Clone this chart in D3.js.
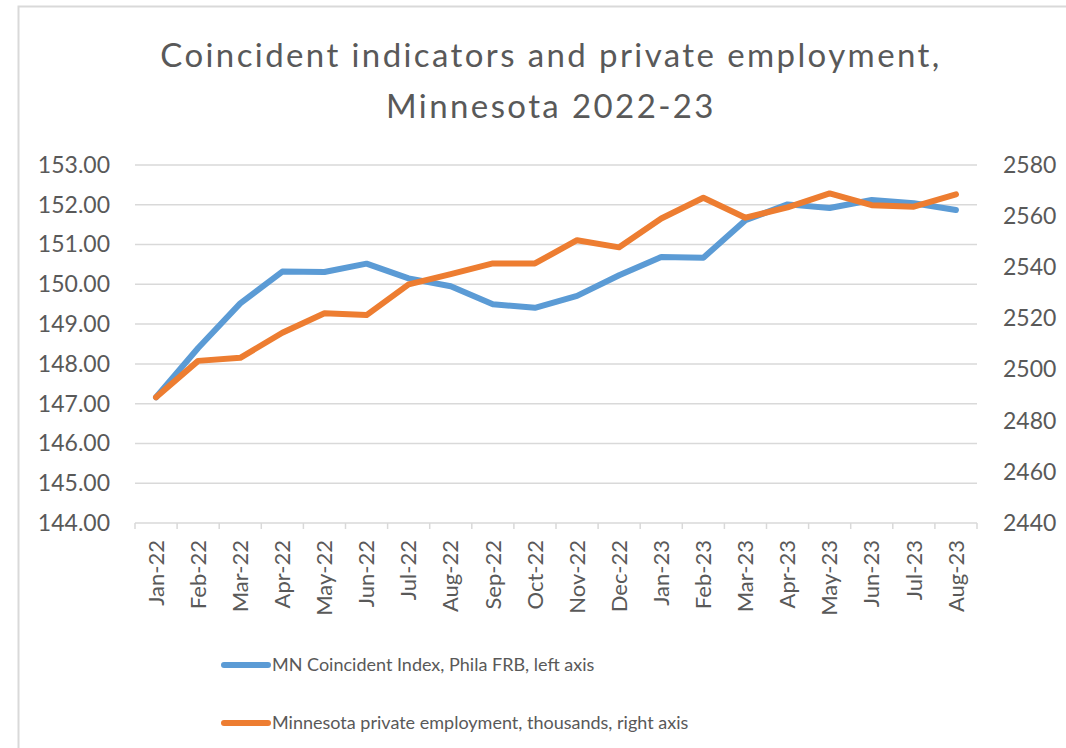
<!DOCTYPE html>
<html>
<head>
<meta charset="utf-8">
<script src="https://cdn.jsdelivr.net/npm/d3@7"></script>
<style>
  body { margin: 0; background: #fff; }
  text { font-family: Lato, sans-serif; fill: #595959; }
</style>
</head>
<body>
<svg id="chart"></svg>
<script>
var months = ['Jan-22', 'Feb-22', 'Mar-22', 'Apr-22', 'May-22', 'Jun-22', 'Jul-22', 'Aug-22',
    'Sep-22', 'Oct-22', 'Nov-22', 'Dec-22', 'Jan-23', 'Feb-23', 'Mar-23', 'Apr-23',
    'May-23', 'Jun-23', 'Jul-23', 'Aug-23'];

// MN coincident index (left axis)
var coincident = [147.16, 148.40, 149.52, 150.32, 150.31, 150.52, 150.15, 149.95, 149.50, 149.41,
    149.71, 150.23, 150.69, 150.67, 151.61, 152.01, 151.92, 152.12, 152.04, 151.87];

// MN private employment, thousands (right axis)
var employment = [2489.2, 2503.4, 2504.6, 2514.4, 2522.0, 2521.3, 2533.3, 2537.3, 2541.5, 2541.5,
    2550.6, 2547.8, 2559.1, 2567.2, 2559.4, 2563.4, 2568.9, 2564.3, 2563.7, 2568.5];

var leftTicks = [144, 145, 146, 147, 148, 149, 150, 151, 152, 153];
var rightTicks = [2440, 2460, 2480, 2500, 2520, 2540, 2560, 2580];

var titleLines = ['Coincident indicators and private employment,', 'Minnesota 2022-23'];
var legendLabels = ['MN Coincident Index, Phila FRB, left axis',
    'Minnesota private employment, thousands, right axis'];
var colors = ['#5b9bd5', '#ed7d31'];

var W = 1066, H = 748;
var plotLeft = 135, plotRight = 977, plotTop = 165, plotBottom = 523;

var svg = d3.select('#chart').attr('width', W).attr('height', H);

// chart border
svg.append('rect')
    .attr('x', 18.5).attr('y', 6.5)
    .attr('width', W + 20).attr('height', H + 20)
    .attr('fill', 'none').attr('stroke', '#d9d9d9').attr('stroke-width', 2);

var x = d3.scaleBand().domain(months).range([plotLeft, plotRight]).padding(0);
var yL = d3.scaleLinear().domain([144, 153]).range([plotBottom, plotTop]);
var yR = d3.scaleLinear().domain([2440, 2580]).range([plotBottom, plotTop]);

// title
svg.append('g').selectAll('text')
    .data(titleLines)
    .enter().append('text')
    .attr('x', 551)
    .attr('y', function(d, i) { return 67 + i * 51; })
    .attr('text-anchor', 'middle')
    .style('font-size', '33px')
    .style('letter-spacing', '2.4px')
    .text(function(d) { return d; });

// gridlines
svg.append('g')
    .selectAll('line')
    .data(leftTicks.slice(1))
    .enter().append('line')
    .attr('x1', plotLeft).attr('x2', plotRight)
    .attr('y1', function(d) { return yL(d); })
    .attr('y2', function(d) { return yL(d); })
    .attr('stroke', '#d9d9d9').attr('stroke-width', 1.5);

// left axis
var gl = svg.append('g')
    .attr('transform', 'translate(' + plotLeft + ',0)')
    .call(d3.axisLeft(yL).tickValues(leftTicks).tickFormat(d3.format('.2f')).tickSize(0).tickPadding(25));
gl.select('.domain').remove();
gl.selectAll('text').style('font-size', '23px').style('font-family', 'Lato, sans-serif').attr('fill', '#595959');

// right axis
var gr = svg.append('g')
    .attr('transform', 'translate(' + plotRight + ',0)')
    .call(d3.axisRight(yR).tickValues(rightTicks).tickFormat(d3.format('d')).tickSize(0).tickPadding(26));
gr.select('.domain').remove();
gr.selectAll('text').style('font-size', '23px').style('font-family', 'Lato, sans-serif').attr('fill', '#595959');

// bottom axis
var gx = svg.append('g')
    .attr('transform', 'translate(0,' + plotBottom + ')')
    .call(d3.axisBottom(x).tickSize(0).tickPadding(0));
gx.select('.domain').remove();
gx.selectAll('text')
    .style('font-size', '22px').style('font-family', 'Lato, sans-serif').attr('fill', '#595959')
    .attr('text-anchor', 'end')
    .attr('dy', '0.35em')
    .attr('transform', 'translate(0,17) rotate(-90)')
    .attr('y', 0).attr('x', 0);

svg.append('line')
    .attr('x1', plotLeft).attr('x2', plotRight)
    .attr('y1', plotBottom).attr('y2', plotBottom)
    .attr('stroke', '#d9d9d9').attr('stroke-width', 1.5);

var bounds = months.map(function(m) { return x(m); }).concat([plotRight]);
svg.append('g').selectAll('line')
    .data(bounds)
    .enter().append('line')
    .attr('x1', function(d) { return d; }).attr('x2', function(d) { return d; })
    .attr('y1', plotBottom).attr('y2', plotBottom + 6)
    .attr('stroke', '#d9d9d9').attr('stroke-width', 1.5);

// lines
var cx = function(d, i) { return x(months[i]) + x.bandwidth() / 2; };

var lineL = d3.line().x(cx).y(function(d) { return yL(d); });
var lineR = d3.line().x(cx).y(function(d) { return yR(d); });

svg.append('path')
    .datum(coincident)
    .attr('d', lineL)
    .attr('fill', 'none').attr('stroke', colors[0]).attr('stroke-width', 6)
    .attr('stroke-linejoin', 'round').attr('stroke-linecap', 'round');

svg.append('path')
    .datum(employment)
    .attr('d', lineR)
    .attr('fill', 'none').attr('stroke', colors[1]).attr('stroke-width', 6)
    .attr('stroke-linejoin', 'round').attr('stroke-linecap', 'round');

// legend
var leg = svg.append('g').selectAll('g')
    .data(legendLabels)
    .enter().append('g')
    .attr('transform', function(d, i) { return 'translate(224,' + (665 + i * 58) + ')'; });

leg.append('line')
    .attr('x1', 0).attr('x2', 44).attr('y1', 0).attr('y2', 0)
    .attr('stroke', function(d, i) { return colors[i]; })
    .attr('stroke-width', 6).attr('stroke-linecap', 'round');

leg.append('text')
    .attr('x', 48).attr('y', 0).attr('dy', '0.35em')
    .style('font-size', '18px')
    .text(function(d) { return d; });
</script>
</body>
</html>
